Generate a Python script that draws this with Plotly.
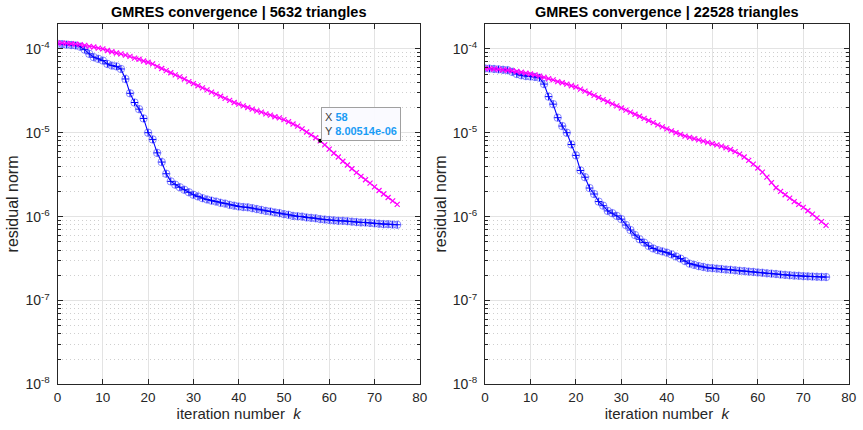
import numpy as np
import plotly.graph_objects as go

iterations = list(range(76))

# 5632 triangles
blue_left = [1.148e-4, 1.135e-4, 1.122e-4, 1.109e-4, 1.096e-4, 1.059e-4, 9.77e-5, 8.71e-5, 7.94e-5, 7.59e-5,
             7.24e-5, 6.61e-5, 6.31e-5, 6.17e-5, 5.75e-5, 4.37e-5, 2.95e-5, 2.29e-5, 1.91e-5, 1.48e-5,
             1.00e-5, 8.32e-6, 5.75e-6, 4.47e-6, 3.24e-6, 2.63e-6, 2.40e-6, 2.24e-6, 2.09e-6, 1.95e-6,
             1.82e-6, 1.74e-6, 1.66e-6, 1.60e-6, 1.55e-6, 1.51e-6, 1.46e-6, 1.43e-6, 1.38e-6, 1.35e-6,
             1.32e-6, 1.30e-6, 1.29e-6, 1.26e-6, 1.23e-6, 1.20e-6, 1.17e-6, 1.15e-6, 1.12e-6, 1.10e-6,
             1.07e-6, 1.05e-6, 1.02e-6, 1.01e-6, 1.00e-6, 9.77e-7, 9.66e-7, 9.55e-7, 9.33e-7, 9.23e-7,
             9.12e-7, 9.02e-7, 8.91e-7, 8.90e-7, 8.81e-7, 8.71e-7, 8.61e-7, 8.51e-7, 8.50e-7, 8.41e-7,
             8.32e-7, 8.22e-7, 8.13e-7, 8.12e-7, 8.04e-7, 8.00e-7]
magenta_left = [1.175e-4, 1.17e-4, 1.16e-4, 1.15e-4, 1.135e-4, 1.12e-4, 1.10e-4, 1.07e-4, 1.05e-4, 1.02e-4,
                1.00e-4, 9.55e-5, 9.23e-5, 8.91e-5, 8.71e-5, 8.41e-5, 8.13e-5, 7.76e-5, 7.50e-5, 7.16e-5,
                6.92e-5, 6.61e-5, 6.17e-5, 5.82e-5, 5.50e-5, 5.19e-5, 4.90e-5, 4.62e-5, 4.37e-5, 4.07e-5,
                3.85e-5, 3.63e-5, 3.43e-5, 3.24e-5, 3.05e-5, 2.88e-5, 2.72e-5, 2.57e-5, 2.43e-5, 2.29e-5,
                2.19e-5, 2.09e-5, 2.00e-5, 1.91e-5, 1.82e-5, 1.76e-5, 1.68e-5, 1.62e-5, 1.55e-5, 1.50e-5,
                1.43e-5, 1.35e-5, 1.27e-5, 1.20e-5, 1.11e-5, 1.02e-5, 9.44e-6, 8.71e-6, 8.00514e-6, 7.16e-6,
                6.38e-6, 5.69e-6, 5.13e-6, 4.57e-6, 4.12e-6, 3.72e-6, 3.35e-6, 3.02e-6, 2.75e-6, 2.51e-6,
                2.26e-6, 2.05e-6, 1.86e-6, 1.69e-6, 1.54e-6, 1.40e-6]

# 22528 triangles
blue_right = [5.83e-5, 5.81e-5, 5.75e-5, 5.69e-5, 5.62e-5, 5.56e-5, 5.31e-5, 5.01e-5, 4.84e-5, 4.73e-5,
              4.68e-5, 4.62e-5, 4.52e-5, 3.80e-5, 2.69e-5, 2.19e-5, 1.51e-5, 1.20e-5, 1.00e-5, 7.24e-6,
              5.37e-6, 3.55e-6, 2.95e-6, 2.19e-6, 1.86e-6, 1.51e-6, 1.35e-6, 1.17e-6, 1.10e-6, 1.02e-6,
              9.33e-7, 7.94e-7, 6.92e-7, 6.03e-7, 5.37e-7, 4.90e-7, 4.47e-7, 4.17e-7, 3.98e-7, 3.85e-7,
              3.72e-7, 3.55e-7, 3.35e-7, 3.16e-7, 2.95e-7, 2.75e-7, 2.66e-7, 2.57e-7, 2.51e-7, 2.45e-7,
              2.43e-7, 2.40e-7, 2.37e-7, 2.34e-7, 2.32e-7, 2.29e-7, 2.26e-7, 2.24e-7, 2.21e-7, 2.19e-7,
              2.16e-7, 2.14e-7, 2.11e-7, 2.09e-7, 2.07e-7, 2.04e-7, 2.02e-7, 2.00e-7, 1.98e-7, 1.97e-7,
              1.95e-7, 1.94e-7, 1.93e-7, 1.92e-7, 1.91e-7, 1.905e-7]
magenta_right = [5.83e-5, 5.81e-5, 5.75e-5, 5.69e-5, 5.62e-5, 5.55e-5, 5.47e-5, 5.37e-5, 5.25e-5, 5.13e-5,
                 5.01e-5, 4.90e-5, 4.73e-5, 4.57e-5, 4.42e-5, 4.27e-5, 4.07e-5, 3.94e-5, 3.80e-5, 3.63e-5,
                 3.51e-5, 3.31e-5, 3.13e-5, 2.95e-5, 2.79e-5, 2.63e-5, 2.48e-5, 2.34e-5, 2.21e-5, 2.09e-5,
                 1.97e-5, 1.86e-5, 1.76e-5, 1.66e-5, 1.57e-5, 1.48e-5, 1.40e-5, 1.32e-5, 1.24e-5, 1.175e-5,
                 1.11e-5, 1.05e-5, 1.00e-5, 9.55e-6, 9.12e-6, 8.81e-6, 8.51e-6, 8.22e-6, 7.94e-6, 7.67e-6,
                 7.41e-6, 7.16e-6, 6.92e-6, 6.61e-6, 6.31e-6, 5.96e-6, 5.56e-6, 5.13e-6, 4.68e-6, 4.22e-6,
                 3.80e-6, 3.39e-6, 2.95e-6, 2.54e-6, 2.21e-6, 2.00e-6, 1.82e-6, 1.66e-6, 1.51e-6, 1.40e-6,
                 1.29e-6, 1.175e-6, 1.07e-6, 9.66e-7, 8.71e-7, 7.85e-7]

titles = ["GMRES convergence | 5632 triangles", "GMRES convergence | 22528 triangles"]
x_ticks = [0, 10, 20, 30, 40, 50, 60, 70, 80]
y_ticks = [1e-8, 1e-7, 1e-6, 1e-5, 1e-4]
y_ticktext = ["10<sup>-8</sup>", "10<sup>-7</sup>", "10<sup>-6</sup>", "10<sup>-5</sup>", "10<sup>-4</sup>"]
y_top = 2e-4
datatip_k = 58

FONT = "Liberation Sans, Arial, Helvetica, sans-serif"
AX = "#262626"
W, H = 863, 430

minor_vals = [m * 10.0 ** e for e in range(-8, -3) for m in range(2, 10)]

fig = go.Figure()
panels = [(blue_left, magenta_left, "x", "y"), (blue_right, magenta_right, "x2", "y2")]
for blue, mag, xa, ya in panels:
    fig.add_trace(go.Scatter(x=iterations, y=blue, mode="markers", xaxis=xa, yaxis=ya,
                             marker=dict(symbol="circle-open", size=7.5, color="rgba(70,70,255,0.6)",
                                         line=dict(width=1)),
                             showlegend=False, hoverinfo="skip"))
    fig.add_trace(go.Scatter(x=iterations, y=blue, mode="lines+markers", xaxis=xa, yaxis=ya,
                             line=dict(color="#0000ff", width=1.1),
                             marker=dict(symbol="cross-thin-open", size=5, color="#0000ff",
                                         line=dict(width=1, color="#0000ff")),
                             showlegend=False))
    fig.add_trace(go.Scatter(x=iterations, y=mag, mode="lines+markers", xaxis=xa, yaxis=ya,
                             line=dict(color="#ff00ff", width=1.2),
                             marker=dict(symbol="x-thin-open", size=5, color="#ff00ff",
                                         line=dict(width=1.2, color="#ff00ff")),
                             showlegend=False))

# datatip point
fig.add_trace(go.Scatter(x=[datatip_k], y=[magenta_left[datatip_k]], mode="markers", xaxis="x", yaxis="y",
                         marker=dict(symbol="circle", size=4, color="#000000"), showlegend=False))

px_l = [54.3, 421.7]
px_r = [487.7, 856.7]
y_dom = [1 - 391.7 / H, 1 - 24 / H]

def xaxis_cfg(px):
    return dict(domain=[px[0] / W, px[1] / W], range=[0, 80], tickvals=x_ticks,
                ticks="inside", ticklen=5, tickcolor=AX, showline=True, linecolor=AX, linewidth=1,
                mirror="allticks", showgrid=True, gridcolor="#e3e3e3", gridwidth=1, zeroline=False,
                tickfont=dict(family=FONT, size=13.5, color=AX),
                title=dict(text="iteration number  <i>k</i>", font=dict(family=FONT, size=15, color=AX),
                           standoff=4))

def yaxis_cfg(anchor):
    return dict(type="log", domain=y_dom, range=[-8, float(np.log10(y_top))], anchor=anchor,
                tickvals=y_ticks, ticktext=y_ticktext, ticks="inside", ticklen=5, tickcolor=AX,
                showline=True, linecolor=AX, linewidth=1, mirror="allticks", ticklabelstandoff=4,
                showgrid=True, gridcolor="#e3e3e3", gridwidth=1, zeroline=False,
                minor=dict(tickvals=minor_vals, ticks="inside", ticklen=3, tickcolor=AX,
                           showgrid=True, gridcolor="#cfcfcf", griddash="1px,3px", gridwidth=1),
                tickfont=dict(family=FONT, size=14, color=AX),
                title=dict(text="residual norm", font=dict(family=FONT, size=16, color=AX), standoff=2))

fig.update_layout(
    width=W, height=H, margin=dict(l=0, r=0, t=0, b=0),
    paper_bgcolor="white", plot_bgcolor="white",
    xaxis=dict(xaxis_cfg(px_l), anchor="y"),
    yaxis=yaxis_cfg("x"),
    xaxis2=dict(xaxis_cfg(px_r), anchor="y2"),
    yaxis2=yaxis_cfg("x2"),
)

for i, (t, px) in enumerate(zip(titles, [px_l, px_r])):
    fig.add_annotation(text="<b>%s</b>" % t, x=(px[0] + px[1]) / 2 / W, y=1 - 12 / H,
                       xref="paper", yref="paper", showarrow=False, xanchor="center", yanchor="middle",
                       font=dict(family=FONT, size=14.5, color="#000000"))

tip_text = ("<span style='color:#404040'>X</span> <b><span style='color:#1a9cf5'>%d</span></b><br>"
            "<span style='color:#404040'>Y</span> <b><span style='color:#1a9cf5'>%s</span></b>"
            % (datatip_k, "8.00514e-06"))
fig.add_annotation(text=tip_text, x=datatip_k, y=float(np.log10(magenta_left[datatip_k])),
                   xref="x", yref="y", showarrow=False, xanchor="left", yanchor="bottom",
                   xshift=1, yshift=0, align="left",
                   bgcolor="rgba(250,250,255,0.95)", bordercolor="#a0a0a0", borderwidth=1, borderpad=3,
                   font=dict(family=FONT, size=11, color="#404040"))

fig.write_html("out.html")
